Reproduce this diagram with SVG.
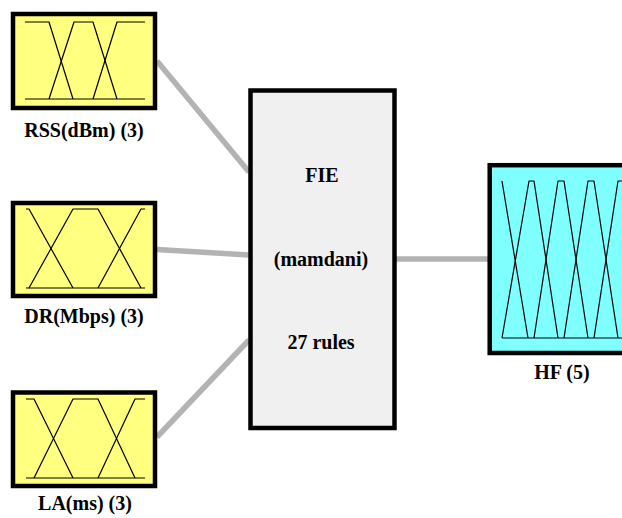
<svg xmlns="http://www.w3.org/2000/svg" width="622" height="518" viewBox="0 0 622 518">
<style>
.box{stroke:#000;stroke-width:4.5}
.in{fill:#ffff80}
.out{fill:#80ffff}
.sys{fill:#f0f0f0}
.mf{fill:none;stroke:#000;stroke-width:1.2;stroke-linejoin:round}
.lbl{font-weight:bold;font-size:20px;fill:#000;text-anchor:middle}
.con{stroke:#b3b3b3;stroke-width:5.5;fill:none}
</style>
<rect width="622" height="518" fill="#fff"/>
<g id="connectors">
<line class="con" x1="157" y1="61" x2="249" y2="172"/>
<line class="con" x1="157" y1="249.5" x2="249" y2="255"/>
<line class="con" x1="157" y1="437" x2="249" y2="340"/>
<line class="con" x1="396" y1="259" x2="488" y2="259"/>
</g>
<g font-family="'Liberation Serif', 'Times New Roman', 'DejaVu Serif', serif">
<g id="rss">
<rect class="box in" x="13" y="14" width="142" height="94"/>
<polyline class="mf" points="25,22 49,22 73,99"/>
<polyline class="mf" points="49,99 74,22 93,22 117,99"/>
<polyline class="mf" points="93,99 117,22 145,22"/>
<line class="mf" x1="25" y1="99" x2="145" y2="99"/>
<text class="lbl" x="84" y="137">RSS(dBm) (3)</text>
</g>
<g id="dr">
<rect class="box in" x="13" y="203" width="142" height="93"/>
<polyline class="mf" points="26,209 29,209 73,288"/>
<polyline class="mf" points="29,288 73,209 98,209 141,288"/>
<polyline class="mf" points="98,288 141,209 145,209"/>
<line class="mf" x1="26" y1="288" x2="145" y2="288"/>
<text class="lbl" x="84" y="323">DR(Mbps) (3)</text>
</g>
<g id="la">
<rect class="box in" x="13" y="392.5" width="142" height="93.5"/>
<polyline class="mf" points="26,399 34,399 73,478"/>
<polyline class="mf" points="34,478 73,399 98,399 135,478"/>
<polyline class="mf" points="98,478 135,399 145,399"/>
<line class="mf" x1="26" y1="478" x2="145" y2="478"/>
<text class="lbl" x="85" y="510">LA(ms) (3)</text>
</g>
<g id="fie">
<rect class="box sys" x="250.5" y="90.5" width="144" height="337.5"/>
<text class="lbl" x="322" y="182">FIE</text>
<text class="lbl" x="321" y="266">(mamdani)</text>
<text class="lbl" x="321" y="349">27 rules</text>
</g>
<g id="hf">
<rect class="box out" x="489.7" y="165.2" width="150" height="187.8"/>
<polyline class="mf" points="502,181 528,338"/>
<polyline class="mf" points="502,338 529,181 534,181 558,338"/>
<polyline class="mf" points="534,338 558,181 564,181 588,338"/>
<polyline class="mf" points="564,338 588,181 594,181 618,338"/>
<polyline class="mf" points="594,338 618,181 630,181"/>
<line class="mf" x1="502" y1="338" x2="630" y2="338"/>
<text class="lbl" x="562" y="379">HF (5)</text>
</g>
</g>
</svg>
